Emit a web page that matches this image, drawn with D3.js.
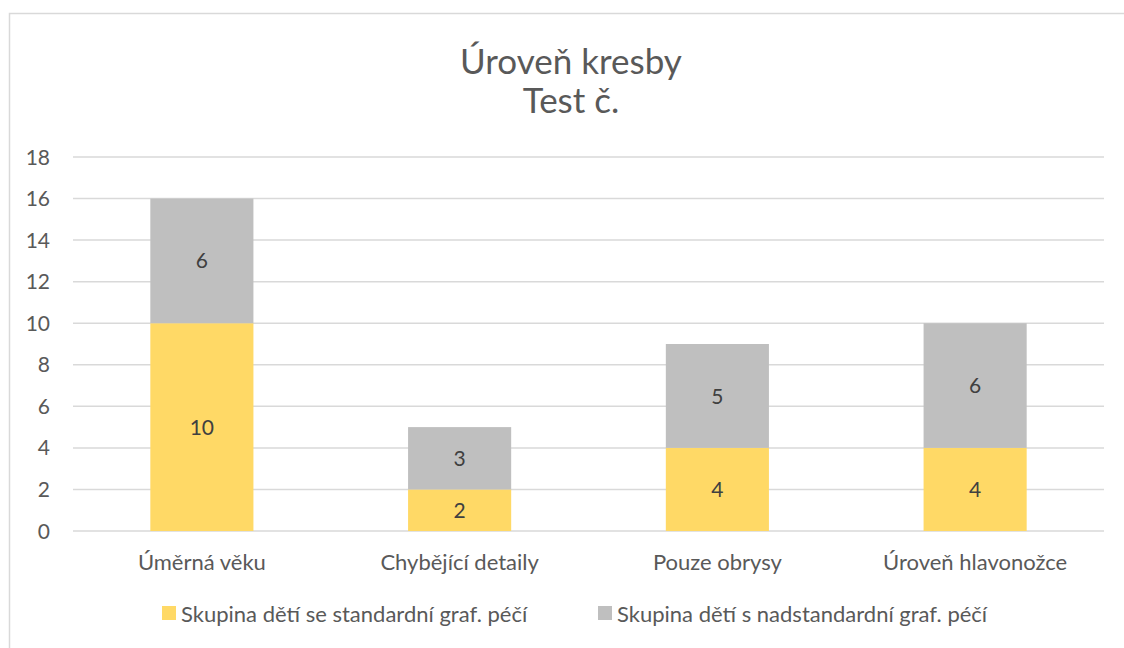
<!DOCTYPE html>
<html>
<head>
<meta charset="utf-8">
<script src="https://cdn.jsdelivr.net/npm/d3@7"></script>
<style>
  body { margin: 0; background: #fff; }
  svg { font-family: Lato, "Open Sans", sans-serif; }
</style>
</head>
<body>
<svg width="1124" height="648"></svg>
<script>
const categories = ["Úměrná věku", "Chybějící detaily", "Pouze obrysy", "Úroveň hlavonožce"];
const seriesNames = ["Skupina dětí se standardní graf. péčí", "Skupina dětí s nadstandardní graf. péčí"];
const standard = [10, 2, 4, 4];
const nadstandard = [6, 3, 5, 6];
const yTicks = [0, 2, 4, 6, 8, 10, 12, 14, 16, 18];
const colors = ["#FFD966", "#BFBFBF"];

const svg = d3.select("svg");
const margin = {left: 73, right: 1104, top: 157, bottom: 531};

// frame round the chart
svg.append("rect")
    .attr("x", 9.5).attr("y", 13.5)
    .attr("width", 1124).attr("height", 700)
    .attr("fill", "none").attr("stroke", "#d9d9d9").attr("stroke-width", 1.5);

const x = d3.scaleBand().domain(categories).range([margin.left, margin.right]).paddingInner(0.6).paddingOuter(0.3);
const y = d3.scaleLinear().domain([0, 18]).range([margin.bottom, margin.top]);

// gridlines
svg.append("g").selectAll("line").data(yTicks).enter().append("line")
    .attr("x1", margin.left).attr("x2", margin.right)
    .attr("y1", d => y(d)).attr("y2", d => y(d))
    .attr("stroke", "#d9d9d9").attr("stroke-width", 1.5);

// y tick labels
svg.append("g").selectAll("text").data(yTicks).enter().append("text")
    .attr("x", 50).attr("y", d => y(d)).attr("dy", "0.36em")
    .attr("text-anchor", "end")
    .attr("font-size", 21).attr("fill", "#595959")
    .text(d => d);

const stacked = d3.stack().keys([0, 1]).value((d, k) => d[k])(categories.map((c, i) => [standard[i], nadstandard[i]]));

const groups = svg.append("g").selectAll("g").data(stacked).enter().append("g")
    .attr("fill", (d, i) => colors[i]);

groups.selectAll("rect").data(d => d).enter().append("rect")
    .attr("x", (d, i) => x(categories[i]))
    .attr("width", x.bandwidth())
    .attr("y", d => y(d[1]))
    .attr("height", d => y(d[0]) - y(d[1]));

groups.selectAll("text").data(d => d).enter().append("text")
    .attr("x", (d, i) => x(categories[i]) + x.bandwidth() / 2)
    .attr("y", d => (y(d[0]) + y(d[1])) / 2).attr("dy", "0.36em")
    .attr("text-anchor", "middle")
    .attr("font-size", 21).attr("fill", "#404040")
    .text(d => d[1] - d[0]);

// category labels
svg.append("g").selectAll("text").data(categories).enter().append("text")
    .attr("x", d => x(d) + x.bandwidth() / 2).attr("y", 570)
    .attr("text-anchor", "middle")
    .attr("font-size", 22).attr("fill", "#595959")
    .text(d => d);

// title
svg.append("text").attr("x", 571).attr("y", 74).attr("text-anchor", "middle")
    .attr("font-size", 35).attr("fill", "#595959").text("Úroveň kresby");
svg.append("text").attr("x", 571).attr("y", 113).attr("text-anchor", "middle")
    .attr("font-size", 35).attr("fill", "#595959").text("Test č.");

// legend
const legendX = [162, 598];
const legend = svg.append("g").selectAll("g").data(seriesNames).enter().append("g")
    .attr("transform", (d, i) => `translate(${legendX[i]},606)`);
legend.append("rect").attr("width", 14).attr("height", 14).attr("fill", (d, i) => colors[i]);
legend.append("text").attr("x", 19).attr("y", 16)
    .attr("font-size", 22).attr("fill", "#595959").text(d => d);
</script>
</body>
</html>
